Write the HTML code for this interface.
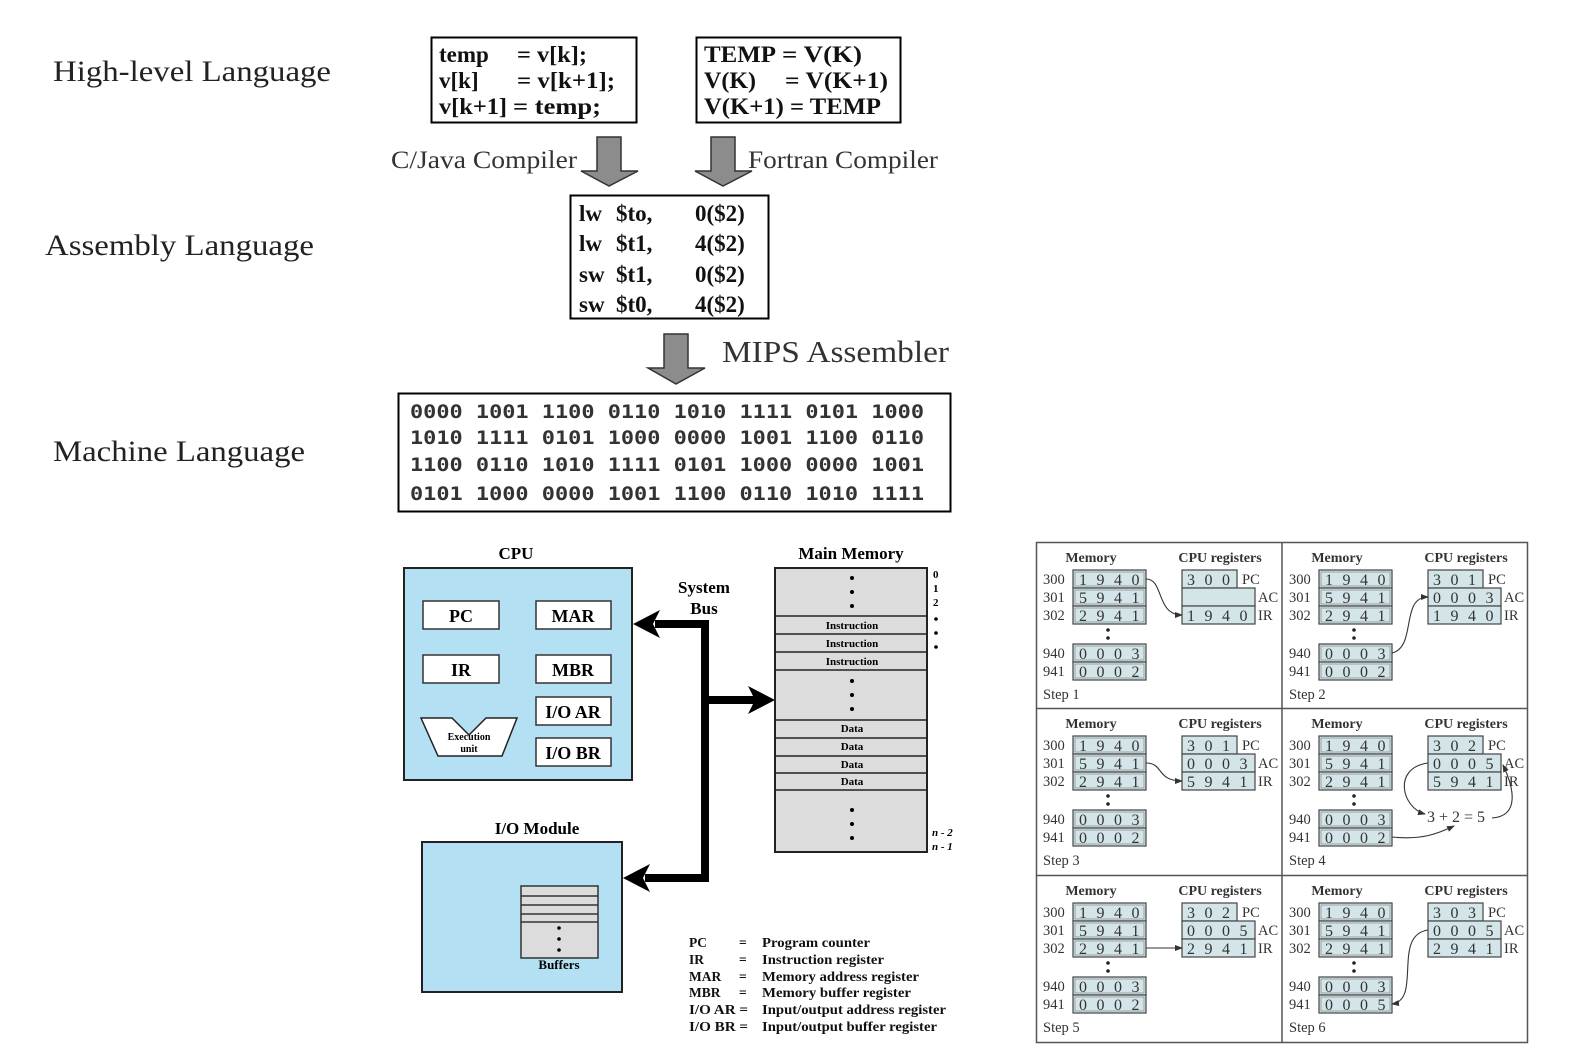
<!DOCTYPE html>
<html><head><meta charset="utf-8">
<style>
html,body{margin:0;padding:0;background:#fff;}
svg{display:block;}
.s{font-family:"Liberation Serif",serif;}
</style></head>
<body>
<svg id="sv" width="1572" height="1056" viewBox="0 0 1572 1056" xmlns="http://www.w3.org/2000/svg" class="s">
<defs>
<marker id="ah" markerWidth="8" markerHeight="6" refX="7" refY="3" orient="auto" markerUnits="userSpaceOnUse">
<path d="M0,0 L8,3 L0,6 z" fill="#333"/></marker>
</defs>
<text x="53" y="81" font-size="30" fill="#222" textLength="278" lengthAdjust="spacingAndGlyphs">High-level Language</text>
<text x="45" y="255" font-size="30" fill="#222" textLength="269" lengthAdjust="spacingAndGlyphs">Assembly Language</text>
<text x="53" y="461" font-size="30" fill="#222" textLength="252" lengthAdjust="spacingAndGlyphs">Machine Language</text>

<rect x="431.5" y="37.5" width="205" height="85" fill="#fff" stroke="#000" stroke-width="2"/>
<g font-size="23" font-weight="bold" fill="#111">
<text x="439" y="62">temp</text><text x="517" y="62" textLength="70" lengthAdjust="spacingAndGlyphs">= v[k];</text>
<text x="439" y="88">v[k]</text><text x="517" y="88" textLength="98" lengthAdjust="spacingAndGlyphs">= v[k+1];</text>
<text x="439" y="114" textLength="68" lengthAdjust="spacingAndGlyphs">v[k+1]</text><text x="513" y="114" textLength="88" lengthAdjust="spacingAndGlyphs">= temp;</text>
</g>
<rect x="696.5" y="37.5" width="204" height="85" fill="#fff" stroke="#000" stroke-width="2"/>
<g font-size="23" font-weight="bold" fill="#111">
<text x="704" y="62" textLength="72" lengthAdjust="spacingAndGlyphs">TEMP</text><text x="782" y="62" textLength="80" lengthAdjust="spacingAndGlyphs">= V(K)</text>
<text x="704" y="88" textLength="52" lengthAdjust="spacingAndGlyphs">V(K)</text><text x="785" y="88" textLength="103" lengthAdjust="spacingAndGlyphs">= V(K+1)</text>
<text x="704" y="114" textLength="177" lengthAdjust="spacingAndGlyphs">V(K+1) = TEMP</text>
</g>

<path d="M597,137 H621 V171 H638 L609,186 L581,171 H597 Z" fill="#8c8c8c" stroke="#333" stroke-width="1.5"/>
<path d="M711,137 H735 V171 H752 L723,186 L695,171 H711 Z" fill="#8c8c8c" stroke="#333" stroke-width="1.5"/>
<path d="M664,334 H688 V368 H705 L676,384 L648,368 H664 Z" fill="#8c8c8c" stroke="#333" stroke-width="1.5"/>
<text x="391" y="168" font-size="25" fill="#333" textLength="186" lengthAdjust="spacingAndGlyphs">C/Java Compiler</text>
<text x="748" y="168" font-size="25" fill="#333" textLength="190" lengthAdjust="spacingAndGlyphs">Fortran Compiler</text>
<text x="722" y="362" font-size="31" fill="#333" textLength="227" lengthAdjust="spacingAndGlyphs">MIPS Assembler</text>

<rect x="570.5" y="195.5" width="198" height="123" fill="#fff" stroke="#000" stroke-width="2"/>
<g font-size="23" font-weight="bold" fill="#111">
<text x="579" y="221">lw</text><text x="616" y="221">$to,</text><text x="695" y="221">0($2)</text>
<text x="579" y="251">lw</text><text x="616" y="251">$t1,</text><text x="695" y="251">4($2)</text>
<text x="579" y="282">sw</text><text x="616" y="282">$t1,</text><text x="695" y="282">0($2)</text>
<text x="579" y="312">sw</text><text x="616" y="312">$t0,</text><text x="695" y="312">4($2)</text>
</g>

<rect x="398.5" y="393.5" width="552" height="118" fill="#fff" stroke="#000" stroke-width="2"/>
<g font-family="'DejaVu Sans Mono','Liberation Mono',monospace" font-size="19" font-weight="bold" fill="#333">
<text x="410" y="418" textLength="514" lengthAdjust="spacingAndGlyphs">0000 1001 1100 0110 1010 1111 0101 1000</text>
<text x="410" y="444" textLength="514" lengthAdjust="spacingAndGlyphs">1010 1111 0101 1000 0000 1001 1100 0110</text>
<text x="410" y="471" textLength="514" lengthAdjust="spacingAndGlyphs">1100 0110 1010 1111 0101 1000 0000 1001</text>
<text x="410" y="500" textLength="514" lengthAdjust="spacingAndGlyphs">0101 1000 0000 1001 1100 0110 1010 1111</text>
</g>

<text x="516" y="559" font-size="17" font-weight="bold" text-anchor="middle">CPU</text>
<rect x="404" y="568" width="228" height="212" fill="#b3e0f3" stroke="#222" stroke-width="2"/>
<g fill="#fff" stroke="#333" stroke-width="1.5">
<rect x="423" y="601" width="76" height="28"/><rect x="536" y="601" width="75" height="28"/>
<rect x="423" y="655" width="76" height="28"/><rect x="536" y="655" width="75" height="28"/>
<rect x="536" y="697" width="75" height="28"/><rect x="536" y="738" width="75" height="28"/>
</g>
<g font-size="18" font-weight="bold" text-anchor="middle">
<text x="461" y="622">PC</text><text x="573" y="622">MAR</text>
<text x="461" y="676">IR</text><text x="573" y="676">MBR</text>
<text x="573" y="718">I/O AR</text><text x="573" y="759">I/O BR</text>
</g>
<path d="M421,718 L452,718 L469,735 L486,718 L517,718 L502,756 L438,756 Z" fill="#fff" stroke="#222" stroke-width="1.5"/>
<text x="469" y="740" font-size="10" font-weight="bold" text-anchor="middle">Execution</text>
<text x="469" y="752" font-size="10" font-weight="bold" text-anchor="middle">unit</text>

<text x="704" y="593" font-size="17" font-weight="bold" text-anchor="middle">System</text>
<text x="704" y="614" font-size="17" font-weight="bold" text-anchor="middle">Bus</text>
<path d="M705,620 V880" stroke="#000" stroke-width="8" fill="none"/>
<path d="M709,624 H655" stroke="#000" stroke-width="8"/>
<path d="M633,624 L660,610 L653,624 L660,638 Z" fill="#000"/>
<path d="M701,700 H755" stroke="#000" stroke-width="8"/>
<path d="M775,700 L748,686 L755,700 L748,714 Z" fill="#000"/>
<path d="M709,878 H645" stroke="#000" stroke-width="8"/>
<path d="M623,878 L650,864 L643,878 L650,892 Z" fill="#000"/>

<text x="851" y="559" font-size="17" font-weight="bold" text-anchor="middle">Main Memory</text>
<rect x="775" y="568" width="152" height="284" fill="#dcdcdc" stroke="#222" stroke-width="2"/>
<g stroke="#222" stroke-width="1.5">
<line x1="775" y1="616" x2="927" y2="616"/><line x1="775" y1="634" x2="927" y2="634"/>
<line x1="775" y1="652" x2="927" y2="652"/><line x1="775" y1="670" x2="927" y2="670"/>
<line x1="775" y1="720" x2="927" y2="720"/><line x1="775" y1="738" x2="927" y2="738"/>
<line x1="775" y1="756" x2="927" y2="756"/><line x1="775" y1="773" x2="927" y2="773"/>
<line x1="775" y1="790" x2="927" y2="790"/>
</g>
<g font-size="11" font-weight="bold" text-anchor="middle">
<text x="852" y="629">Instruction</text><text x="852" y="647">Instruction</text><text x="852" y="665">Instruction</text>
<text x="852" y="732">Data</text><text x="852" y="750">Data</text><text x="852" y="768">Data</text><text x="852" y="785">Data</text>
</g>
<g fill="#000">
<circle cx="852" cy="578" r="2"/><circle cx="852" cy="592" r="2"/><circle cx="852" cy="606" r="2"/>
<circle cx="852" cy="681" r="2"/><circle cx="852" cy="695" r="2"/><circle cx="852" cy="709" r="2"/>
<circle cx="852" cy="810" r="2"/><circle cx="852" cy="824" r="2"/><circle cx="852" cy="838" r="2"/>
<circle cx="936" cy="619" r="1.8"/><circle cx="936" cy="633" r="1.8"/><circle cx="936" cy="647" r="1.8"/>
</g>
<g font-size="11" font-weight="bold">
<text x="933" y="578">0</text><text x="933" y="592">1</text><text x="933" y="606">2</text>
<text x="932" y="836" font-style="italic">n - 2</text><text x="932" y="850" font-style="italic">n - 1</text>
</g>

<text x="537" y="834" font-size="17" font-weight="bold" text-anchor="middle">I/O Module</text>
<rect x="422" y="842" width="200" height="150" fill="#b3e0f3" stroke="#222" stroke-width="2"/>
<rect x="521" y="886" width="77" height="72" fill="#dcdcdc" stroke="#333" stroke-width="1.5"/>
<g stroke="#333" stroke-width="1.5">
<line x1="521" y1="896" x2="598" y2="896"/><line x1="521" y1="905" x2="598" y2="905"/>
<line x1="521" y1="914" x2="598" y2="914"/><line x1="521" y1="922" x2="598" y2="922"/>
</g>
<circle cx="559" cy="928" r="1.8"/><circle cx="559" cy="939" r="1.8"/><circle cx="559" cy="950" r="1.8"/>
<text x="559" y="969" font-size="13" font-weight="bold" text-anchor="middle">Buffers</text>

<g font-size="13.5" font-weight="bold" fill="#111">
<text x="689" y="947">PC</text><text x="739" y="947">=</text><text x="762" y="947" textLength="108" lengthAdjust="spacingAndGlyphs">Program counter</text>
<text x="689" y="964">IR</text><text x="739" y="964">=</text><text x="762" y="964" textLength="122" lengthAdjust="spacingAndGlyphs">Instruction register</text>
<text x="689" y="981">MAR</text><text x="739" y="981">=</text><text x="762" y="981" textLength="157" lengthAdjust="spacingAndGlyphs">Memory address register</text>
<text x="689" y="997">MBR</text><text x="739" y="997">=</text><text x="762" y="997" textLength="149" lengthAdjust="spacingAndGlyphs">Memory buffer register</text>
<text x="689" y="1014" textLength="59" lengthAdjust="spacingAndGlyphs">I/O AR =</text><text x="762" y="1014" textLength="184" lengthAdjust="spacingAndGlyphs">Input/output address register</text>
<text x="689" y="1031" textLength="59" lengthAdjust="spacingAndGlyphs">I/O BR =</text><text x="762" y="1031" textLength="175" lengthAdjust="spacingAndGlyphs">Input/output buffer register</text>
</g>

<rect x="1036.5" y="542.5" width="491" height="500" fill="#fff" stroke="#555" stroke-width="1.5"/>
<line x1="1282" y1="542" x2="1282" y2="1043" stroke="#555" stroke-width="1.5"/>
<line x1="1036" y1="708.5" x2="1528" y2="708.5" stroke="#555" stroke-width="1.5"/>
<line x1="1036" y1="875.5" x2="1528" y2="875.5" stroke="#555" stroke-width="1.5"/>
<g id="steps"></g>
</svg>
<script>
(function(){
var NS="http://www.w3.org/2000/svg",g=document.getElementById("steps");
function el(t,a,txt){var e=document.createElementNS(NS,t);for(var k in a)e.setAttribute(k,a[k]);if(txt!=null)e.textContent=txt;g.appendChild(e);return e;}
var cells=[[1036,542,"300","","1940",1,"0002"],[1282,542,"301","0003","1940",2,"0002"],[1036,708,"301","0003","5941",3,"0002"],[1282,708,"302","0005","5941",4,"0002"],[1036,875,"302","0005","2941",5,"0002"],[1282,875,"303","0005","2941",6,"0005"]];
var FILL="#d3e5e8",ST="#444";
function digits(x,y,s){ if(!s)return; for(var i=0;i<s.length;i++){el("text",{x:x+7+i*17.5,y:y+15,"font-size":16,fill:"#333","text-anchor":"middle"},s[i]);} }
cells.forEach(function(c){
 var x=c[0],y=c[1];
 el("text",{x:x+55,y:y+20,"font-size":14,"font-weight":"bold","text-anchor":"middle",fill:"#333"},"Memory");
 el("text",{x:x+184,y:y+20,"font-size":14,"font-weight":"bold","text-anchor":"middle",fill:"#333"},"CPU registers");
 var rows=[[28,"300","1940"],[46,"301","5941"],[64,"302","2941"],[102,"940","0003"],[120,"941",c[6]]];
 rows.forEach(function(r){
  el("rect",{x:x+37,y:y+r[0],width:73,height:18,fill:FILL,stroke:ST,"stroke-width":1.2});
  el("rect",{x:x+39,y:y+r[0]+2,width:69,height:14,fill:"none",stroke:"#777","stroke-width":0.6});
  el("text",{x:x+7,y:y+r[0]+14,"font-size":14.5,fill:"#333"},r[1]);
  digits(x+40,y+r[0],r[2]);
 });
 el("circle",{cx:x+72,cy:y+88,r:1.8,fill:"#222"});el("circle",{cx:x+72,cy:y+96,r:1.8,fill:"#222"});
 el("rect",{x:x+146,y:y+28,width:55,height:18,fill:FILL,stroke:ST,"stroke-width":1.2});
 el("rect",{x:x+146,y:y+46,width:73,height:18,fill:FILL,stroke:ST,"stroke-width":1.2});
 el("rect",{x:x+146,y:y+64,width:73,height:18,fill:FILL,stroke:ST,"stroke-width":1.2});
 digits(x+148,y+28,c[2]);digits(x+148,y+46,c[3]);digits(x+148,y+64,c[4]);
 el("text",{x:x+206,y:y+42,"font-size":14.5,fill:"#333"},"PC");
 el("text",{x:x+222,y:y+60,"font-size":14.5,fill:"#333"},"AC");
 el("text",{x:x+222,y:y+78,"font-size":14.5,fill:"#333"},"IR");
 el("text",{x:x+7,y:y+157,"font-size":14.5,fill:"#333"},"Step "+c[5]);
 function p(d){el("path",{d:d,fill:"none",stroke:"#333","stroke-width":1.1,"marker-end":"url(#ah)"});}
 var s=c[5];
 if(s==1)p("M"+(x+110)+","+(y+37)+" C"+(x+128)+","+(y+37)+" "+(x+120)+","+(y+73)+" "+(x+146)+","+(y+73));
 if(s==2)p("M"+(x+110)+","+(y+111)+" C"+(x+135)+","+(y+105)+" "+(x+118)+","+(y+55)+" "+(x+146)+","+(y+55));
 if(s==3)p("M"+(x+110)+","+(y+55)+" C"+(x+128)+","+(y+55)+" "+(x+120)+","+(y+73)+" "+(x+146)+","+(y+73));
 if(s==5)p("M"+(x+110)+","+(y+73)+" L"+(x+146)+","+(y+73));
 if(s==4){
  el("text",{x:x+145,y:y+114,"font-size":16,fill:"#333"},"3 + 2 = 5");
  p("M"+(x+146)+","+(y+55)+" C"+(x+110)+","+(y+60)+" "+(x+120)+","+(y+100)+" "+(x+143)+","+(y+106));
  p("M"+(x+110)+","+(y+129)+" C"+(x+140)+","+(y+132)+" "+(x+155)+","+(y+126)+" "+(x+172)+","+(y+118));
  p("M"+(x+210)+","+(y+110)+" C"+(x+238)+","+(y+108)+" "+(x+232)+","+(y+80)+" "+(x+221)+","+(y+57));
 }
 if(s==6)p("M"+(x+146)+","+(y+55)+" C"+(x+110)+","+(y+60)+" "+(x+140)+","+(y+125)+" "+(x+110)+","+(y+129));
});
})();
</script>
</body></html>
